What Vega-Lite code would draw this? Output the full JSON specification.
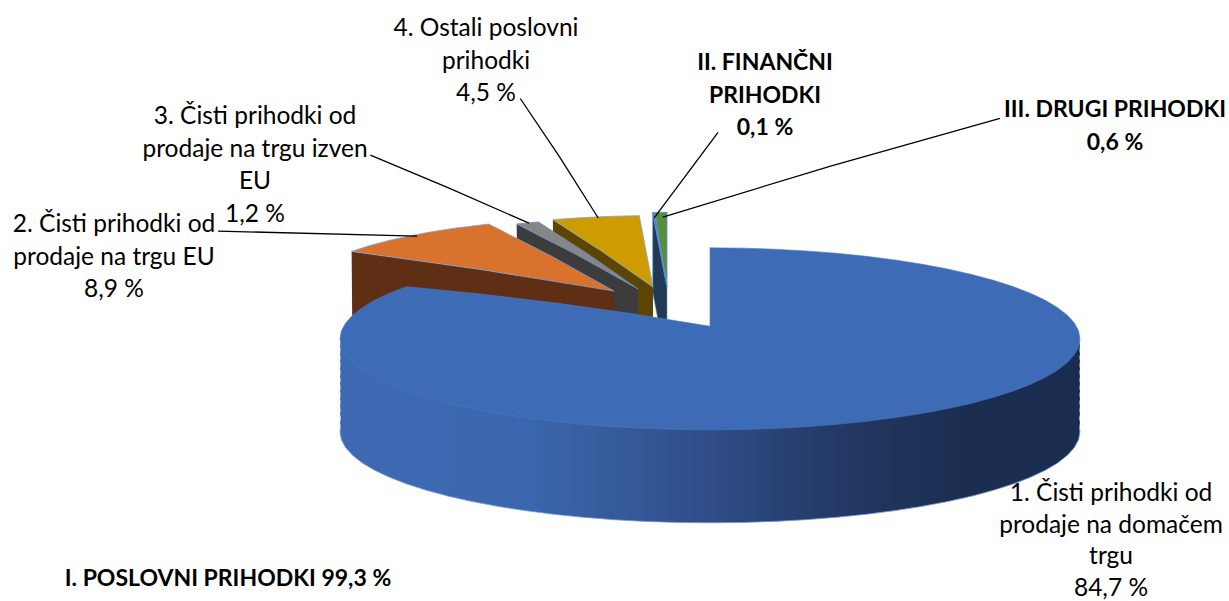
{"$schema":"https://vega.github.io/schema/vega-lite/v6.json","width":1229,"height":601,"padding":0,"autosize":"none","background":"white","config":{"view":{"stroke":null},"text":{"font":"Lato","fontSize":24.5,"lineHeight":32.5,"lineBreak":"\n","color":"#000000"}},
"datasets":{"pie":[
{"slice":"1","value":84.7,"label":"1. Čisti prihodki od\nprodaje na domačem\ntrgu\n84,7 %","wedge":{"type":"Polygon","coordinates":[[[0,90],[180,86],[175,86],[170,86],[165,86],[160,86],[155,86],[150,86],[145,86],[140,86],[135,86],[130,86],[125,86],[120,86],[115,86],[110,86],[105,86],[100,86],[95,86],[90,86],[85,86],[80,86],[75,86],[70,86],[65,86],[60,86],[55,86],[50,86],[45,86],[40,86],[35,86],[30,86],[25,86],[20,86],[15,86],[10,86],[5,86],[0,86],[-5,86],[-10,86],[-15,86],[-20,86],[-25,86],[-30,86],[-35,86],[-40,86],[-45,86],[-50,86],[-55,86],[-60,86],[-65,86],[-70,86],[-75,86],[-80,86],[-85,86],[-90,86],[-95,86],[-100,86],[-105,86],[-110,86],[-115,86],[-120,86],[-124.92,86],[0,90]]]}},
{"slice":"2","value":8.9,"label":"2. Čisti prihodki od\nprodaje na trgu EU\n8,9 %","wedge":{"type":"Polygon","coordinates":[[[0,90],[-124.92,88],[-130,88],[-135,88],[-140,88],[-145,88],[-150,88],[-156.96,88],[0,90]]]},"wall":{"type":"Polygon","coordinates":[[[-124.92,88],[0,90],[0,88.09],[-61,88.13],[-124.92,88]]]},"leader":{"type":"LineString","coordinates":[[-130.95,88.236],[-143,88.68]]}},
{"slice":"3","value":1.2,"label":"3. Čisti prihodki od\nprodaje na trgu izven\nEU\n1,2 %","wedge":{"type":"Polygon","coordinates":[[[0,90],[-156.96,88],[-159,88],[-161.28,88],[0,90]]]},"wall":{"type":"Polygon","coordinates":[[[-156.96,88],[0,90],[0,88.03],[-64.6,89.14],[-156.96,88]]]},"leader":{"type":"LineString","coordinates":[[-155.9,87.745],[-157.6,88.709]]}},
{"slice":"4","value":4.5,"label":"4. Ostali poslovni\nprihodki\n4,5 %","wedge":{"type":"Polygon","coordinates":[[[0,90],[-161.28,88],[-165,88],[-170,88],[-175,88],[-177.48,88],[0,90]]]},"wall":{"type":"Polygon","coordinates":[[[-161.28,88],[0,90],[0,88.05],[-63.9,89.29],[-161.28,88]]]},"leader":{"type":"LineString","coordinates":[[-169.5,87.17],[-166.3,88.713]]}},
{"slice":"II","value":0.1,"label":"II. FINANČNI\nPRIHODKI\n0,1 %","wedge":{"type":"Polygon","coordinates":[[[0,90],[-177.48,88],[-177.84,88],[0,90]]]},"wall":{"type":"Polygon","coordinates":[[[-177.48,88],[0,90],[0,88.12],[-33,89.84],[-177.48,88]]]},"leader":{"type":"LineString","coordinates":[[179.53,87.679],[-172.95,88.745]]}},
{"slice":"III","value":0.6,"label":"III. DRUGI PRIHODKI\n0,6 %","wedge":{"type":"Polygon","coordinates":[[[0,90],[-177.84,88],[-179,88],[-180,88],[0,90]]]},"leader":{"type":"LineString","coordinates":[[162.84,87.352],[-174.1,88.735]]}}
]},
"data":{"name":"pie"},
"layer":[
{"name":"a1","transform":[{"filter":"datum.slice==='III'"}],"mark":{"type":"geoshape","stroke":"#5b8fd6","strokeWidth":0.8},"projection":{"type":"orthographic","precision":0.51,"scale":9341,"rotate":[0,-14.24,0],"translate":[667,9341]},"encoding":{"shape":{"field":"wedge","type":"geojson"},"color":{"field":"slice","legend":null,"scale":{"domain":["1","2","3","4","II","III"],"range":["#3e6bb6","#d9722c","#868686","#cf9c00","#4a7fc0","#588d3a"]}}}},
{"name":"a2","transform":[{"filter":"datum.slice==='II'"}],"mark":{"type":"geoshape","fill":"#203a55","stroke":"#5b8fd6","strokeWidth":0.6},"projection":{"type":"orthographic","precision":0.52,"scale":9341,"rotate":[0,-14.24,0],"translate":[667,9341]},"encoding":{"shape":{"field":"wall","type":"geojson"}}},
{"name":"a3","transform":[{"filter":"datum.slice==='II'"}],"mark":{"type":"geoshape","stroke":"#5b8fd6","strokeWidth":0.8},"projection":{"type":"orthographic","precision":0.53,"scale":9341,"rotate":[0,-14.24,0],"translate":[667,9341]},"encoding":{"shape":{"field":"wedge","type":"geojson"},"color":{"field":"slice","legend":null}}},
{"name":"a4","transform":[{"filter":"datum.slice==='4'"}],"mark":{"type":"geoshape","fill":"#5b4500"},"projection":{"type":"orthographic","precision":0.54,"scale":8940,"rotate":[0,-14.24,0],"translate":[653,8952.4]},"encoding":{"shape":{"field":"wall","type":"geojson"}}},
{"name":"a5","transform":[{"filter":"datum.slice==='4'"}],"mark":{"type":"geoshape","stroke":"#7f9fd6","strokeWidth":0.8},"projection":{"type":"orthographic","precision":0.55,"scale":8940,"rotate":[0,-14.24,0],"translate":[653,8952.4]},"encoding":{"shape":{"field":"wedge","type":"geojson"},"color":{"field":"slice","legend":null}}},
{"name":"a6","transform":[{"filter":"datum.slice==='3'"}],"mark":{"type":"geoshape","fill":"#3c3c3c"},"projection":{"type":"orthographic","precision":0.56,"scale":8883,"rotate":[0,-14.24,0],"translate":[638,8899]},"encoding":{"shape":{"field":"wall","type":"geojson"}}},
{"name":"a7","transform":[{"filter":"datum.slice==='3'"}],"mark":{"type":"geoshape","stroke":"#5b8fd6","strokeWidth":0.8},"projection":{"type":"orthographic","precision":0.57,"scale":8883,"rotate":[0,-14.24,0],"translate":[638,8899]},"encoding":{"shape":{"field":"wedge","type":"geojson"},"color":{"field":"slice","legend":null}}},
{"name":"a8","transform":[{"filter":"datum.slice==='2'"}],"mark":{"type":"geoshape","fill":"#5f2f15"},"projection":{"type":"orthographic","precision":0.58,"scale":9169,"rotate":[0,-14.24,0],"translate":[614,9178.3]},"encoding":{"shape":{"field":"wall","type":"geojson"}}},
{"name":"a9","transform":[{"filter":"datum.slice==='2'"}],"mark":{"type":"geoshape","stroke":"#7f9fd6","strokeWidth":0.8},"projection":{"type":"orthographic","precision":0.59,"scale":9169,"rotate":[0,-14.24,0],"translate":[614,9178.3]},"encoding":{"shape":{"field":"wedge","type":"geojson"},"color":{"field":"slice","legend":null}}},
{"name":"b1","transform":[{"filter":"datum.slice==='1'"}],"mark":{"type":"geoshape","stroke":"#6f9ae0","strokeWidth":0.8,"fill":{"gradient":"linear","x1":0,"x2":1,"y1":0,"y2":0,"stops":[{"offset":0,"color":"#3e6ab4"},{"offset":0.25,"color":"#3c67ae"},{"offset":0.5,"color":"#2f4d87"},{"offset":0.7,"color":"#223660"},{"offset":0.85,"color":"#1b2d50"},{"offset":1,"color":"#1a2c50"}]}},"projection":{"type":"orthographic","precision":0.6,"scale":5304.2,"rotate":[0,-14.24,0],"translate":[710,5560.5]},"encoding":{"shape":{"field":"wedge","type":"geojson"}}},
{"name":"b11","transform":[{"filter":"datum.slice==='1'"}],"mark":{"type":"geoshape","fill":{"gradient":"linear","x1":0,"x2":1,"y1":0,"y2":0,"stops":[{"offset":0,"color":"#3e6ab4"},{"offset":0.25,"color":"#3c67ae"},{"offset":0.5,"color":"#2f4d87"},{"offset":0.7,"color":"#223660"},{"offset":0.85,"color":"#1b2d50"},{"offset":1,"color":"#1a2c50"}]}},"projection":{"type":"orthographic","precision":0.601,"scale":5304.2,"rotate":[0,-14.24,0],"translate":[710,5551.5]},"encoding":{"shape":{"field":"wedge","type":"geojson"}}},
{"name":"b2","transform":[{"filter":"datum.slice==='1'"}],"mark":{"type":"geoshape","fill":{"gradient":"linear","x1":0,"x2":1,"y1":0,"y2":0,"stops":[{"offset":0,"color":"#3e6ab4"},{"offset":0.25,"color":"#3c67ae"},{"offset":0.5,"color":"#2f4d87"},{"offset":0.7,"color":"#223660"},{"offset":0.85,"color":"#1b2d50"},{"offset":1,"color":"#1a2c50"}]}},"projection":{"type":"orthographic","precision":0.61,"scale":5304.2,"rotate":[0,-14.24,0],"translate":[710,5542.5]},"encoding":{"shape":{"field":"wedge","type":"geojson"}}},
{"name":"b21","transform":[{"filter":"datum.slice==='1'"}],"mark":{"type":"geoshape","fill":{"gradient":"linear","x1":0,"x2":1,"y1":0,"y2":0,"stops":[{"offset":0,"color":"#3e6ab4"},{"offset":0.25,"color":"#3c67ae"},{"offset":0.5,"color":"#2f4d87"},{"offset":0.7,"color":"#223660"},{"offset":0.85,"color":"#1b2d50"},{"offset":1,"color":"#1a2c50"}]}},"projection":{"type":"orthographic","precision":0.611,"scale":5304.2,"rotate":[0,-14.24,0],"translate":[710,5535]},"encoding":{"shape":{"field":"wedge","type":"geojson"}}},
{"name":"b3","transform":[{"filter":"datum.slice==='1'"}],"mark":{"type":"geoshape","fill":{"gradient":"linear","x1":0,"x2":1,"y1":0,"y2":0,"stops":[{"offset":0,"color":"#3e6ab4"},{"offset":0.25,"color":"#3c67ae"},{"offset":0.5,"color":"#2f4d87"},{"offset":0.7,"color":"#223660"},{"offset":0.85,"color":"#1b2d50"},{"offset":1,"color":"#1a2c50"}]}},"projection":{"type":"orthographic","precision":0.62,"scale":5304.2,"rotate":[0,-14.24,0],"translate":[710,5527.5]},"encoding":{"shape":{"field":"wedge","type":"geojson"}}},
{"name":"b31","transform":[{"filter":"datum.slice==='1'"}],"mark":{"type":"geoshape","fill":{"gradient":"linear","x1":0,"x2":1,"y1":0,"y2":0,"stops":[{"offset":0,"color":"#3e6ab4"},{"offset":0.25,"color":"#3c67ae"},{"offset":0.5,"color":"#2f4d87"},{"offset":0.7,"color":"#223660"},{"offset":0.85,"color":"#1b2d50"},{"offset":1,"color":"#1a2c50"}]}},"projection":{"type":"orthographic","precision":0.621,"scale":5304.2,"rotate":[0,-14.24,0],"translate":[710,5520]},"encoding":{"shape":{"field":"wedge","type":"geojson"}}},
{"name":"b4","transform":[{"filter":"datum.slice==='1'"}],"mark":{"type":"geoshape","fill":{"gradient":"linear","x1":0,"x2":1,"y1":0,"y2":0,"stops":[{"offset":0,"color":"#3e6ab4"},{"offset":0.25,"color":"#3c67ae"},{"offset":0.5,"color":"#2f4d87"},{"offset":0.7,"color":"#223660"},{"offset":0.85,"color":"#1b2d50"},{"offset":1,"color":"#1a2c50"}]}},"projection":{"type":"orthographic","precision":0.63,"scale":5304.2,"rotate":[0,-14.24,0],"translate":[710,5512.5]},"encoding":{"shape":{"field":"wedge","type":"geojson"}}},
{"name":"b41","transform":[{"filter":"datum.slice==='1'"}],"mark":{"type":"geoshape","fill":{"gradient":"linear","x1":0,"x2":1,"y1":0,"y2":0,"stops":[{"offset":0,"color":"#3e6ab4"},{"offset":0.25,"color":"#3c67ae"},{"offset":0.5,"color":"#2f4d87"},{"offset":0.7,"color":"#223660"},{"offset":0.85,"color":"#1b2d50"},{"offset":1,"color":"#1a2c50"}]}},"projection":{"type":"orthographic","precision":0.631,"scale":5304.2,"rotate":[0,-14.24,0],"translate":[710,5505]},"encoding":{"shape":{"field":"wedge","type":"geojson"}}},
{"name":"b5","transform":[{"filter":"datum.slice==='1'"}],"mark":{"type":"geoshape","fill":{"gradient":"linear","x1":0,"x2":1,"y1":0,"y2":0,"stops":[{"offset":0,"color":"#3e6ab4"},{"offset":0.25,"color":"#3c67ae"},{"offset":0.5,"color":"#2f4d87"},{"offset":0.7,"color":"#223660"},{"offset":0.85,"color":"#1b2d50"},{"offset":1,"color":"#1a2c50"}]}},"projection":{"type":"orthographic","precision":0.64,"scale":5304.2,"rotate":[0,-14.24,0],"translate":[710,5497.5]},"encoding":{"shape":{"field":"wedge","type":"geojson"}}},
{"name":"b51","transform":[{"filter":"datum.slice==='1'"}],"mark":{"type":"geoshape","fill":{"gradient":"linear","x1":0,"x2":1,"y1":0,"y2":0,"stops":[{"offset":0,"color":"#3e6ab4"},{"offset":0.25,"color":"#3c67ae"},{"offset":0.5,"color":"#2f4d87"},{"offset":0.7,"color":"#223660"},{"offset":0.85,"color":"#1b2d50"},{"offset":1,"color":"#1a2c50"}]}},"projection":{"type":"orthographic","precision":0.641,"scale":5304.2,"rotate":[0,-14.24,0],"translate":[710,5490]},"encoding":{"shape":{"field":"wedge","type":"geojson"}}},
{"name":"b6","transform":[{"filter":"datum.slice==='1'"}],"mark":{"type":"geoshape","fill":{"gradient":"linear","x1":0,"x2":1,"y1":0,"y2":0,"stops":[{"offset":0,"color":"#3e6ab4"},{"offset":0.25,"color":"#3c67ae"},{"offset":0.5,"color":"#2f4d87"},{"offset":0.7,"color":"#223660"},{"offset":0.85,"color":"#1b2d50"},{"offset":1,"color":"#1a2c50"}]}},"projection":{"type":"orthographic","precision":0.65,"scale":5304.2,"rotate":[0,-14.24,0],"translate":[710,5482.5]},"encoding":{"shape":{"field":"wedge","type":"geojson"}}},
{"name":"b61","transform":[{"filter":"datum.slice==='1'"}],"mark":{"type":"geoshape","fill":{"gradient":"linear","x1":0,"x2":1,"y1":0,"y2":0,"stops":[{"offset":0,"color":"#3e6ab4"},{"offset":0.25,"color":"#3c67ae"},{"offset":0.5,"color":"#2f4d87"},{"offset":0.7,"color":"#223660"},{"offset":0.85,"color":"#1b2d50"},{"offset":1,"color":"#1a2c50"}]}},"projection":{"type":"orthographic","precision":0.651,"scale":5304.2,"rotate":[0,-14.24,0],"translate":[710,5475]},"encoding":{"shape":{"field":"wedge","type":"geojson"}}},
{"name":"b7","transform":[{"filter":"datum.slice==='1'"}],"mark":{"type":"geoshape","stroke":"#4a78c4","strokeWidth":0.6},"projection":{"type":"orthographic","precision":0.66,"scale":5304.2,"rotate":[0,-14.24,0],"translate":[710,5467.5]},"encoding":{"shape":{"field":"wedge","type":"geojson"},"color":{"field":"slice","legend":null}}},
{"name":"c1","transform":[{"filter":"isValid(datum.leader)"}],"mark":{"type":"geoshape","filled":false,"stroke":"#000000","strokeWidth":1.3},"projection":{"type":"orthographic","precision":0.67,"scale":21200,"rotate":[0,-14.24,0],"translate":[711,20875.2]},"encoding":{"shape":{"field":"leader","type":"geojson"}}},
{"transform":[{"filter":"datum.slice==='1'"}],"mark":{"type":"text","lineHeight":31.5,"dx":496.5,"dy":193.5},"encoding":{"text":{"field":"label"}}},
{"transform":[{"filter":"datum.slice==='2'"}],"mark":{"type":"text","dx":-500.5,"dy":-75.5},"encoding":{"text":{"field":"label"}}},
{"transform":[{"filter":"datum.slice==='3'"}],"mark":{"type":"text","dx":-359.5,"dy":-183.5},"encoding":{"text":{"field":"label"}}},
{"transform":[{"filter":"datum.slice==='4'"}],"mark":{"type":"text","dx":-128.5,"dy":-271.5},"encoding":{"text":{"field":"label"}}},
{"transform":[{"filter":"datum.slice==='II'"}],"mark":{"type":"text","fontWeight":"bold","fontSize":23,"dx":150.5,"dy":-237.5},"encoding":{"text":{"field":"label"}}},
{"transform":[{"filter":"datum.slice==='III'"}],"mark":{"type":"text","fontWeight":"bold","fontSize":23,"dx":500.5,"dy":-190.5},"encoding":{"text":{"field":"label"}}},
{"data":{"values":[{"group":"I","value":99.3,"label":"I. POSLOVNI PRIHODKI 99,3 %"}]},"mark":{"type":"text","fontWeight":"bold","fontSize":23,"dx":-386.5,"dy":278.5},"encoding":{"text":{"field":"label"}}}
]}
